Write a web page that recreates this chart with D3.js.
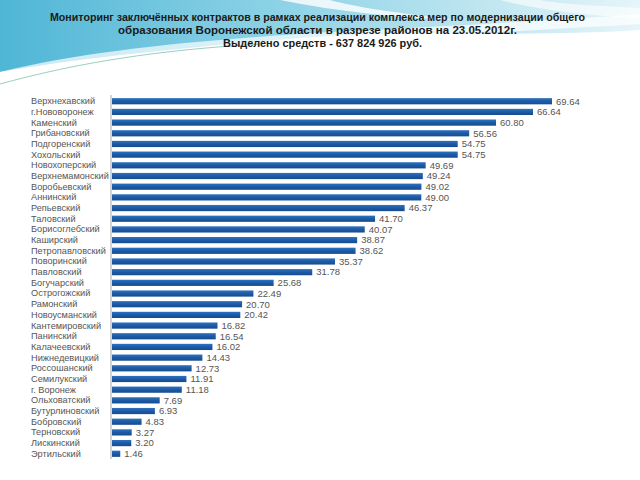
<!DOCTYPE html>
<html><head><meta charset="utf-8">
<script src="https://cdn.jsdelivr.net/npm/d3@7"></script>
<style>body{margin:0;background:#fff}svg{display:block}</style>
</head><body>
<svg id="c" width="640" height="480"></svg>
<script>
const categories = ["Верхнехавский","г.Нововоронеж","Каменский","Грибановский","Подгоренский","Хохольский","Новохоперский","Верхнемамонский","Воробьевский","Аннинский","Репьевский","Таловский","Борисоглебский","Каширский","Петропавловский","Поворинский","Павловский","Богучарский","Острогожский","Рамонский","Новоусманский","Кантемировский","Панинский","Калачеевский","Нижнедевицкий","Россошанский","Семилукский","г. Воронеж","Ольховатский","Бутурлиновский","Бобровский","Терновский","Лискинский","Эртильский"];
const values = [69.64,66.64,60.80,56.56,54.75,54.75,49.69,49.24,49.02,49.00,46.37,41.70,40.07,38.87,38.62,35.37,31.78,25.68,22.49,20.70,20.42,16.82,16.54,16.02,14.43,12.73,11.91,11.18,7.69,6.93,4.83,3.27,3.20,1.46];
const titleLines = ["Мониторинг заключённых контрактов в рамках реализации комплекса мер по модернизации общего","образования  Воронежской  области  в разрезе  районов на  23.05.2012г.","Выделено средств - 637 824 926 руб."];

const svg = d3.select("#c");
const defs = svg.append("defs");
const g1 = defs.append("linearGradient").attr("id","bg").attr("x1","0").attr("x2","1").attr("y1","0").attr("y2","0");
g1.append("stop").attr("offset","0").attr("stop-color","#4fb6d6");
g1.append("stop").attr("offset","0.45").attr("stop-color","#8fd3e6");
g1.append("stop").attr("offset","1").attr("stop-color","#e6f5f9");
const g2 = defs.append("linearGradient").attr("id","bar").attr("x1","0").attr("x2","0").attr("y1","0").attr("y2","1");
g2.append("stop").attr("offset","0").attr("stop-color","#2f72bd");
g2.append("stop").attr("offset","0.5").attr("stop-color","#1c5aa6");
g2.append("stop").attr("offset","1").attr("stop-color","#164c8f");

// background swoosh
svg.append("path").attr("d","M0,0 L640,0 L640,30 C520,38 420,28 300,38 C180,48 80,58 0,72 Z").attr("fill","url(#bg)");
svg.append("path").attr("d","M0,72 C90,50 200,40 330,32 C450,26 560,20 640,14 L640,24 C540,30 430,36 320,42 C200,50 90,62 0,80 Z").attr("fill","#ffffff").attr("opacity",0.7);
svg.append("path").attr("d","M0,84 C80,62 160,50 260,44").attr("fill","none").attr("stroke","#4aa88a").attr("stroke-width",0.8).attr("opacity",0.7);
svg.append("path").attr("d","M280,0 C340,12 400,18 460,20 C400,14 350,6 330,0 Z").attr("fill","#ffffff").attr("opacity",0.8);
svg.append("path").attr("d","M500,0 C540,10 590,16 640,18 L640,8 C600,6 560,4 540,0 Z").attr("fill","#ffffff").attr("opacity",0.6);

// title
const ty = [21, 34, 47];
const tx = [[50,585],[118,517],[223,422]];
titleLines.forEach((t,i)=>{
  svg.append("text").attr("x",tx[i][0]).attr("y",ty[i])
    .attr("textLength",tx[i][1]-tx[i][0]).attr("lengthAdjust","spacingAndGlyphs")
    .attr("font-family","Liberation Sans, Arial, sans-serif")
    .attr("font-weight","bold").attr("font-size",10.5).attr("fill","#1a1a1a").text(t);
});

const x0 = 111;
const x = d3.scaleLinear().domain([0,69.64]).range([x0,552]);
const y = d3.scaleBand().domain(categories).range([96,459]).paddingInner(0.42).paddingOuter(0.2);

svg.selectAll("rect.bar").data(values).join("rect").attr("class","bar")
  .attr("x",x0+1).attr("y",(d,i)=>y(categories[i]))
  .attr("width",d=>x(d)-x0-1).attr("height",y.bandwidth()).attr("fill","url(#bar)");

svg.selectAll("text.val").data(values).join("text").attr("class","val")
  .attr("x",d=>x(d)+4).attr("y",(d,i)=>y(categories[i])+y.bandwidth()/2).attr("dy","0.35em")
  .attr("font-family","Liberation Sans, Arial, sans-serif").attr("font-size",9.5).attr("fill","#555")
  .text(d=>d.toFixed(2));

const yAxis = d3.axisLeft(y).tickSize(0).tickPadding(0);
const ag = svg.append("g").attr("transform",`translate(31,0)`).call(yAxis);
ag.select(".domain").remove();
ag.selectAll("text").attr("text-anchor","start").attr("x",0)
  .attr("font-family","Liberation Sans, Arial, sans-serif").attr("font-size",9.2).attr("fill","#555");

svg.append("line").attr("x1",x0).attr("x2",x0).attr("y1",95).attr("y2",459).attr("stroke","#aaa").attr("stroke-width",1);
</script>
</body></html>
